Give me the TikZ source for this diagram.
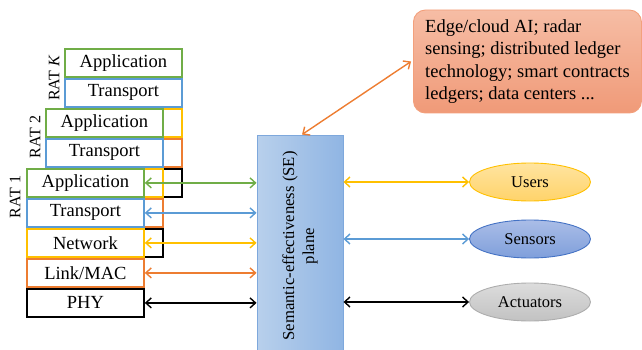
\documentclass[tikz,border=0pt]{standalone}
\usepackage{fontspec}
\setmainfont{Liberation Serif}
\usetikzlibrary{arrows.meta,shapes.geometric}
\definecolor{cgreen}{HTML}{70AD47}
\definecolor{cblue}{HTML}{5B9BD5}
\definecolor{cyellow}{HTML}{FFC000}
\definecolor{corange}{HTML}{ED7D31}
\definecolor{seleft}{HTML}{B8D0EC}
\definecolor{seright}{HTML}{90B5E3}
\definecolor{seborder}{HTML}{7EA8DC}
\definecolor{bubtop}{HTML}{F6BDA5}
\definecolor{bubbot}{HTML}{F09A78}
\definecolor{bubborder}{HTML}{F3A07C}
\definecolor{usertop}{HTML}{FFE4A0}
\definecolor{userbot}{HTML}{FFD36A}
\definecolor{senstop}{HTML}{AABDE7}
\definecolor{sensbot}{HTML}{7F9FDB}
\definecolor{sensborder}{HTML}{4472C4}
\definecolor{acttop}{HTML}{DCDCDC}
\definecolor{actbot}{HTML}{C2C2C2}
\definecolor{actborder}{HTML}{ADADAD}
\begin{document}
\begin{tikzpicture}[x=1pt,y=-1pt,
  layer/.style={draw=#1, line width=1.8pt, fill=white, minimum width=117pt,
    minimum height=28pt, inner sep=0pt, anchor=north west,
    font=\fontsize{18.5}{20}\selectfont},
  ratlabel/.style={rotate=90, font=\fontsize{16}{18}\selectfont, inner sep=0pt},
  link/.style={{Straight Barb[length=5.5pt,width=10pt]}-{Straight Barb[length=5.5pt,width=10pt]}, line width=1.4pt},
  endpoint/.style={ellipse, minimum width=121pt, minimum height=38pt, inner sep=0pt,
    line width=0.9pt, font=\fontsize{16.5}{18}\selectfont},
]
\useasboundingbox (0,0) rectangle (642,350);

% RAT K (lower layers hidden behind RAT 2 and RAT 1)
\node[layer=cgreen]  (kapp)  at (64,48)  {Application};
\node[layer=cblue]   (ktr)   at (64,78)  {Transport};
\node[layer=cyellow] (knet)  at (64,108) {};
\node[layer=corange] (klink) at (64,138) {};
\node[layer=black]   (kphy)  at (64,168) {};
% RAT 2
\node[layer=cgreen]  (tapp)  at (45,108) {Application};
\node[layer=cblue]   (ttr)   at (45,138) {Transport};
\node[layer=cyellow] (tnet)  at (45,168) {};
\node[layer=corange] (tlink) at (45,198) {};
\node[layer=black]   (tphy)  at (45,228) {};
% RAT 1
\node[layer=cgreen]  (oapp)  at (26,168) {Application};
\node[layer=cblue]   (otr)   at (26,198) {Transport};
\node[layer=cyellow] (onet)  at (26,228) {Network};
\node[layer=corange] (olink) at (26,258) {Link/MAC};
\node[layer=black]   (ophy)  at (26,288) {PHY};

\node[ratlabel] (labk) at (54,78)  {RAT \textit{K}};
\node[ratlabel] (lab2) at (35,137) {RAT 2};
\node[ratlabel] (lab1) at (15,197) {RAT 1};

% SE plane
\node[draw=seborder, line width=0.9pt, left color=seleft, right color=seright,
  minimum width=86pt, minimum height=222pt, inner sep=0pt,
  label={[rotate=90, align=center, font=\fontsize{16.7}{20}\selectfont]center:Semantic-effectiveness (SE)\\plane}]
  (se) at (300,246) {};

% bubble
\node[draw=bubborder, line width=0.9pt, rounded corners=12pt, top color=bubtop, bottom color=bubbot,
  minimum width=228pt, minimum height=103pt, inner xsep=8pt, anchor=west,
  align=left, font=\fontsize{18.5}{22.5}\selectfont]
  (bub) at (413,61.5) {Edge/cloud AI; radar\\sensing; distributed ledger\\technology; smart contracts\\ledgers; data centers ...};

% endpoints
\node[endpoint, draw=cyellow, top color=usertop, bottom color=userbot] (users) at (530,182) {Users};
\node[endpoint, draw=sensborder, top color=senstop, bottom color=sensbot] (sensors) at (530,239) {Sensors};
\node[endpoint, draw=actborder, top color=acttop, bottom color=actbot] (act) at (530,302) {Actuators};

% connectors
\draw[link, cgreen]  (oapp.east)  -- (oapp.east -| se.west);
\draw[link, cblue]   (otr.east)   -- (otr.east -| se.west);
\draw[link, cyellow] (onet.east)  -- (onet.east -| se.west);
\draw[link, corange] (olink.east) -- (olink.east -| se.west);
\draw[link, black]   (ophy.east)  -- (ophy.east -| se.west);

\draw[link, cyellow] (se.east |- users) -- (users.west);
\draw[link, cblue]   (se.east |- sensors) -- (sensors.west);
\draw[link, black]   (se.east |- act) -- (act.west);

\draw[link, corange] ([xshift=-2pt]bub.west) -- ([xshift=2pt]se.north);
\end{tikzpicture}
\end{document}
